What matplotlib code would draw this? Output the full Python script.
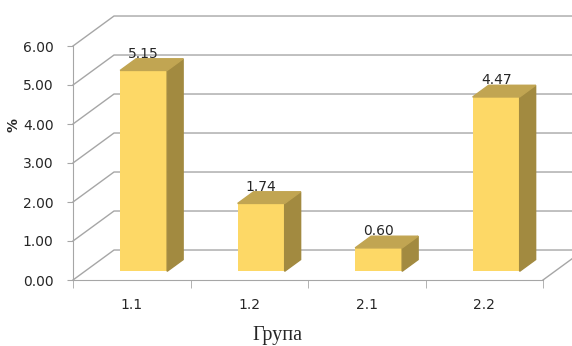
import matplotlib.pyplot as plt
from matplotlib.patches import Polygon

groups = ["1.1", "1.2", "2.1", "2.2"]
values = [5.15, 1.74, 0.60, 4.47]
yticks = [0, 1, 2, 3, 4, 5, 6]

front = "#FDD866"
top_c = "#C1A552"
side_c = "#A28A40"
grid_c = "#A6A6A6"
text_c = "#262626"

# fake 3d: depth offset of the back wall in data units
wall_dx, wall_dy = 0.349, 0.769
bar_off = 0.29          # bar front plane, fraction of depth
bar_dep = 0.39          # bar depth, fraction of depth
width = 0.4

fig = plt.figure(figsize=(5.72, 3.46), dpi=100)
ax = fig.add_axes([73 / 572, 66 / 346, 470 / 572, 234 / 346])
ax.set_xlim(0, len(groups))
ax.set_ylim(0, 6)

# side wall diagonals and back wall gridlines
for v in yticks:
    ax.plot([0, wall_dx, 4.6], [v, v + wall_dy, v + wall_dy],
            color=grid_c, lw=1, clip_on=False, zorder=1)
# right floor edge
ax.plot([4, 4 + wall_dx], [0, wall_dy], color=grid_c, lw=1,
        clip_on=False, zorder=1)

xs = [i + 0.5 + bar_off * wall_dx for i in range(len(groups))]
base = bar_off * wall_dy
bdx, bdy = bar_dep * wall_dx, bar_dep * wall_dy
ax.bar(xs, values, width=width, bottom=base, color=front, zorder=3)
for x, v in zip(xs, values):
    xl, xr = x - width / 2, x + width / 2
    t = base + v
    ax.add_patch(Polygon([(xr, base), (xr + bdx, base + bdy),
                          (xr + bdx, t + bdy), (xr, t)],
                         closed=True, color=side_c, zorder=3))
    ax.add_patch(Polygon([(xl, t), (xl + bdx, t + bdy),
                          (xr + bdx, t + bdy), (xr, t)],
                         closed=True, color=top_c, zorder=3))
    ax.text(x, t + bdy + 0.02, f"{v:.2f}", ha="center", va="baseline",
            fontsize=10, color=text_c, zorder=4)

for s in ["top", "right"]:
    ax.spines[s].set_visible(False)
for s in ["left", "bottom"]:
    ax.spines[s].set_color(grid_c)
    ax.spines[s].set_zorder(2)

ax.set_yticks(yticks)
ax.set_yticklabels([f"{v:.2f}" for v in yticks])
ax.tick_params(axis="y", length=4, pad=10, color=grid_c,
               labelsize=10, labelcolor=text_c)
ax.set_xticks([i + 0.5 for i in range(len(groups))])
ax.set_xticklabels(groups)
ax.set_xticks(range(len(groups) + 1), minor=True)
ax.tick_params(axis="x", which="major", length=0, pad=13,
               labelsize=10, labelcolor=text_c)
ax.tick_params(axis="x", which="minor", length=6, color=grid_c)

fig.text(14 / 572, 1 - 125 / 346, "%", rotation=90, ha="center",
         va="center", fontsize=10, fontweight="bold", color=text_c)
fig.text(277 / 572, 6 / 346, "Група", ha="center", va="baseline",
         fontsize=14.5, family="Liberation Serif", color=text_c)

fig.savefig("out.png", dpi=100)
